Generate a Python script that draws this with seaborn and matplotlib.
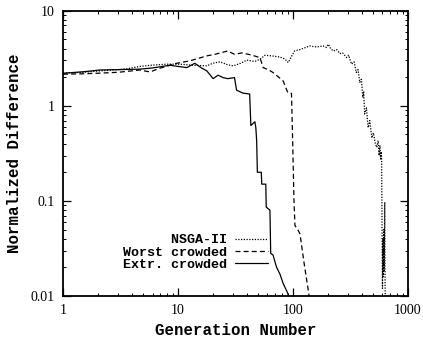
import matplotlib
matplotlib.use("Agg")
import matplotlib.pyplot as plt
import pandas as pd
import seaborn as sns
from matplotlib.ticker import LogLocator, NullFormatter, FixedLocator, FixedFormatter

# ---------------------------------------------------------------------------
# Data (generation, normalized difference)
# ---------------------------------------------------------------------------
nsga_x = [1, 1.5, 2, 3, 3.6, 4.7, 6, 8, 10.4, 13.6, 17.8, 20, 23.2, 27, 30.3,
          35, 39.5, 46.6, 52, 57, 65, 77, 85, 91, 97, 103, 115, 140, 160,
          183, 195, 203, 212, 225, 240, 255, 270, 293, 305, 323, 340, 355,
          368, 381, 393, 405, 412, 420, 435, 450, 465, 485, 500, 520, 535,
          550, 560, 570, 578, 585, 590, 595, 600, 605, 610, 615, 620, 625,
          628, 631, 634]
nsga_y = [2.2, 2.25, 2.32, 2.4, 2.45, 2.6, 2.68, 2.74, 2.74, 2.67, 2.63, 2.8,
          2.9, 2.7, 2.63, 2.8, 3.02, 2.93, 3.1, 3.4, 3.35, 3.26, 3.1, 2.85,
          3.3, 3.77, 3.9, 4.26, 4.15, 4.26, 4.1, 4.44, 4.0, 3.77, 3.9, 3.54,
          3.6, 3.21, 3.4, 2.74, 2.9, 2.24, 2.4, 1.76, 1.9, 1.22, 1.4, 0.82,
          0.95, 0.59, 0.7, 0.46, 0.52, 0.4, 0.365, 0.43, 0.3, 0.38, 0.27,
          0.33, 0.27, 0.05, 0.012, 0.04, 0.016, 0.05, 0.018, 0.045, 0.097,
          0.02, 0.0095]

worst_x = [1, 1.5, 2, 3, 4.67, 5.7, 7, 9.75, 12.7, 17.8, 21, 27, 31, 36,
           43.6, 51.6, 55, 61, 67, 75, 82, 90, 97, 99, 102, 104, 110, 115,
           125, 135, 139]
worst_y = [2.15, 2.17, 2.2, 2.25, 2.38, 2.27, 2.49, 2.8, 2.97, 3.35, 3.48,
           3.77, 3.48, 3.6, 3.42, 3.21, 2.52, 2.4, 2.24, 2.0, 1.83, 1.38,
           1.35, 0.5, 0.1, 0.055, 0.05, 0.045, 0.022, 0.012, 0.0095]

extr_x = [1, 1.5, 2.1, 3, 4.67, 6, 8.5, 11.9, 14, 16, 17.8, 20.2, 22.3, 24.6,
          27, 31, 32.3, 36.7, 42, 43, 46.6, 47.5, 48.3, 49, 53, 53.5, 58,
          58.5, 63, 64, 67, 72, 77, 82, 90, 92]
extr_y = [2.2, 2.28, 2.38, 2.4, 2.43, 2.5, 2.67, 2.52, 2.8, 2.5, 2.33, 1.93,
          2.1, 1.98, 1.93, 1.98, 1.46, 1.36, 1.33, 0.62, 0.68, 0.59, 0.43,
          0.2, 0.2, 0.15, 0.15, 0.086, 0.08, 0.028, 0.027, 0.02, 0.017,
          0.0136, 0.0107, 0.0095]

series_names = ["NSGA-II", "Worst crowded", "Extr. crowded"]
x_ticks = [1, 10, 100, 1000]
x_tick_labels = ["1", "10", "100", "1000"]
y_ticks = [0.01, 0.1, 1, 10]
y_tick_labels = ["0.01", "0.1", "1", "10"]

# ---------------------------------------------------------------------------
sns.set_theme(style="ticks")
plt.rcParams["font.family"] = ["Liberation Serif", "DejaVu Serif"]

fig = plt.figure(figsize=(4.23, 3.41), dpi=100)
ax = fig.add_axes([0.149, 0.132, 0.8155, 0.8366])

mono = dict(family="Liberation Mono", weight="bold")
styles = [(0, (1, 1.2)), (0, (4, 2.5)), "-"]
for name, xs, ys, ls in zip(series_names,
                            [nsga_x, worst_x, extr_x],
                            [nsga_y, worst_y, extr_y],
                            styles):
    df = pd.DataFrame({"gen": xs, "diff": ys})
    sns.lineplot(data=df, x="gen", y="diff", sort=False, estimator=None,
                 color="black", linewidth=0.9, linestyle=ls, label=name, ax=ax)

ax.set_xscale("log")
ax.set_yscale("log")
ax.set_xlim(1, 1000)
ax.set_ylim(0.01, 10)

ax.xaxis.set_major_locator(FixedLocator(x_ticks))
ax.xaxis.set_major_formatter(FixedFormatter(x_tick_labels))
ax.yaxis.set_major_locator(FixedLocator(y_ticks))
ax.yaxis.set_major_formatter(FixedFormatter(y_tick_labels))
ax.xaxis.set_minor_locator(LogLocator(base=10, subs=range(2, 10), numticks=20))
ax.yaxis.set_minor_locator(LogLocator(base=10, subs=range(2, 10), numticks=20))
ax.xaxis.set_minor_formatter(NullFormatter())
ax.yaxis.set_minor_formatter(NullFormatter())

ax.tick_params(which="both", direction="in", top=True, right=True,
               color="black", labelsize=10, labelcolor="black")
ax.tick_params(which="major", length=5.5, width=0.9, pad=6)
ax.tick_params(which="minor", length=2.5, width=0.7)
for sp in ax.spines.values():
    sp.set_color("black")
    sp.set_linewidth(1.3)

ax.set_xlabel("Generation Number", fontsize=11.3, color="black", **mono)
ax.set_ylabel("Normalized Difference", fontsize=11.3, color="black", **mono)
ax.xaxis.set_label_coords(0.5, -0.095)
ax.yaxis.set_label_coords(-0.118, 0.5)

# monospace labels padded on the left so the legend text is right aligned
labels = [n.rjust(13) for n in series_names]
handles = ax.get_legend_handles_labels()[0]
leg = ax.legend(handles, labels, loc="center right", bbox_to_anchor=(0.594, 0.153),
                markerfirst=False, frameon=False, borderaxespad=0, borderpad=0,
                handlelength=2.5, handletextpad=0.55, labelspacing=0.0,
                prop=dict(family="Liberation Mono", weight="bold", size=9.6))
for t in leg.get_texts():
    t.set_color("black")

fig.savefig("out.png", dpi=100)
